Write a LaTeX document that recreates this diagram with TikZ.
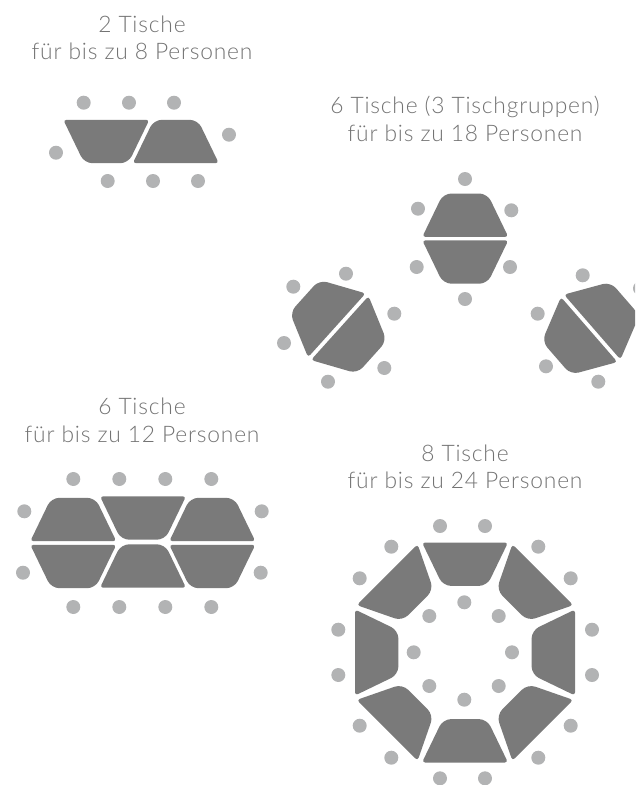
\documentclass[tikz,border=0pt]{standalone}
\usepackage{fontspec}
\setmainfont[LetterSpace=3.5]{Lato Light}
\usepackage{xcolor}
\definecolor{tablegray}{RGB}{122,122,122}
\definecolor{seatgray}{RGB}{178,179,180}
\definecolor{textgray}{RGB}{115,115,115}

\begin{document}
\begin{tikzpicture}[x=1pt,y=-1pt]
\tikzset{
  seat/.style={circle,fill=seatgray,inner sep=0pt,minimum size=14pt},
  caption/.style={align=center,inner sep=0pt,text=textgray,font=\fontsize{22.8}{27.5}\selectfont},
  pics/tabletop/.style={code={
    \fill[tablegray] (-39.8,-21.7) -- (39.8,-21.7) .. controls (41.56,-21.7) and (42.37,-20.4) .. (41.6,-18.82)
      -- (25.49,14.5) .. controls (23.57,18.46) and (18.4,21.7) .. (14,21.7) -- (-14,21.7)
      .. controls (-18.4,21.7) and (-23.57,18.46) .. (-25.49,14.5) -- (-41.6,-18.82)
      .. controls (-42.37,-20.4) and (-41.56,-21.7) .. cycle;
  }}
}
\clip (0,0) rectangle (635,785);
% 2 tables
\node(capa)[caption] at (142,38){2 Tische\\für bis zu 8 Personen};
\pic at (106.3,141.5) {tabletop};
\pic[rotate=180] at (175.8,141.5) {tabletop};
\foreach \x/\y [count=\i] in {83.7/102.7,129/102.7,174/102.7,229/134.7,56/152.7,107.7/181,153/181,198/181}
  \node(a\i)[seat] at (\x,\y){};
% 6 tables, 3 groups
\node(capb)[caption] at (465,119){6 Tische (3 Tischgruppen)\\für bis zu 18 Personen};
\pic[rotate=180] at (465.3,215.2) {tabletop};
\pic at (465.3,262) {tabletop};
\pic[rotate=-132] at (320.7,310.8) {tabletop};
\pic[rotate=48] at (355.9,342.6) {tabletop};
\pic[rotate=131] at (608.6,312.8) {tabletop};
\pic[rotate=-49] at (572.8,343.8) {tabletop};
\foreach \x/\y [count=\i] in {465/179,418/208.7,511.3/210.3,416.7/267,510/267,465/299,
    293.3/286.7,346/273.7,394.3/313.7,284/343,384.3/368,328/381.7,
    582.7/275.3,640/288.3,537.7/313.7,546/366.3,598.3/381.7}
  \node(b\i)[seat] at (\x,\y){};
% 6 tables in a row
\node(capc)[caption] at (142,420.5){6 Tische\\für bis zu 12 Personen};
\foreach \x/\y/\r in {73.3/519.5/180,143/518/0,212.3/519.5/180,73.3/566.5/0,143/566/180,212.3/566.5/0}
  \pic[rotate=\r] at (\x,\y) {tabletop};
\foreach \x/\y [count=\i] in {73.3/479,119.3/479,165.3/479,211.3/479,24.3/511.3,23/572.7,
    261.7/511.3,260.7/572.7,73.3/607,119.3/607,165.3/607,211.3/607}
  \node(c\i)[seat] at (\x,\y){};
% 8 tables in a ring
\node(capd)[caption] at (465,467){8 Tische\\für bis zu 24 Personen};
\foreach \a in {0,45,...,315}
  \pic[rotate=\a] at ({465-88.3*sin(\a)},{652.5-88.3*cos(\a)}) {tabletop};
\foreach \x/\y [count=\i] in {440/526,485/526,391.3/546.7,359.7/578.3,538.3/546.7,570.7/578.3,
    338.3/629.7,338.3/675,592/629.7,592/675,359.7/725.7,391.3/757.7,570.7/725.7,538.3/757.7,
    440/778.3,485/778.3,464.3/602.3,429.3/616,498.7/616,413.7/652.3,512/652.3,429.3/686,498.7/686,464.3/699.7}
  \node(d\i)[seat] at (\x,\y){};
\end{tikzpicture}
\end{document}
